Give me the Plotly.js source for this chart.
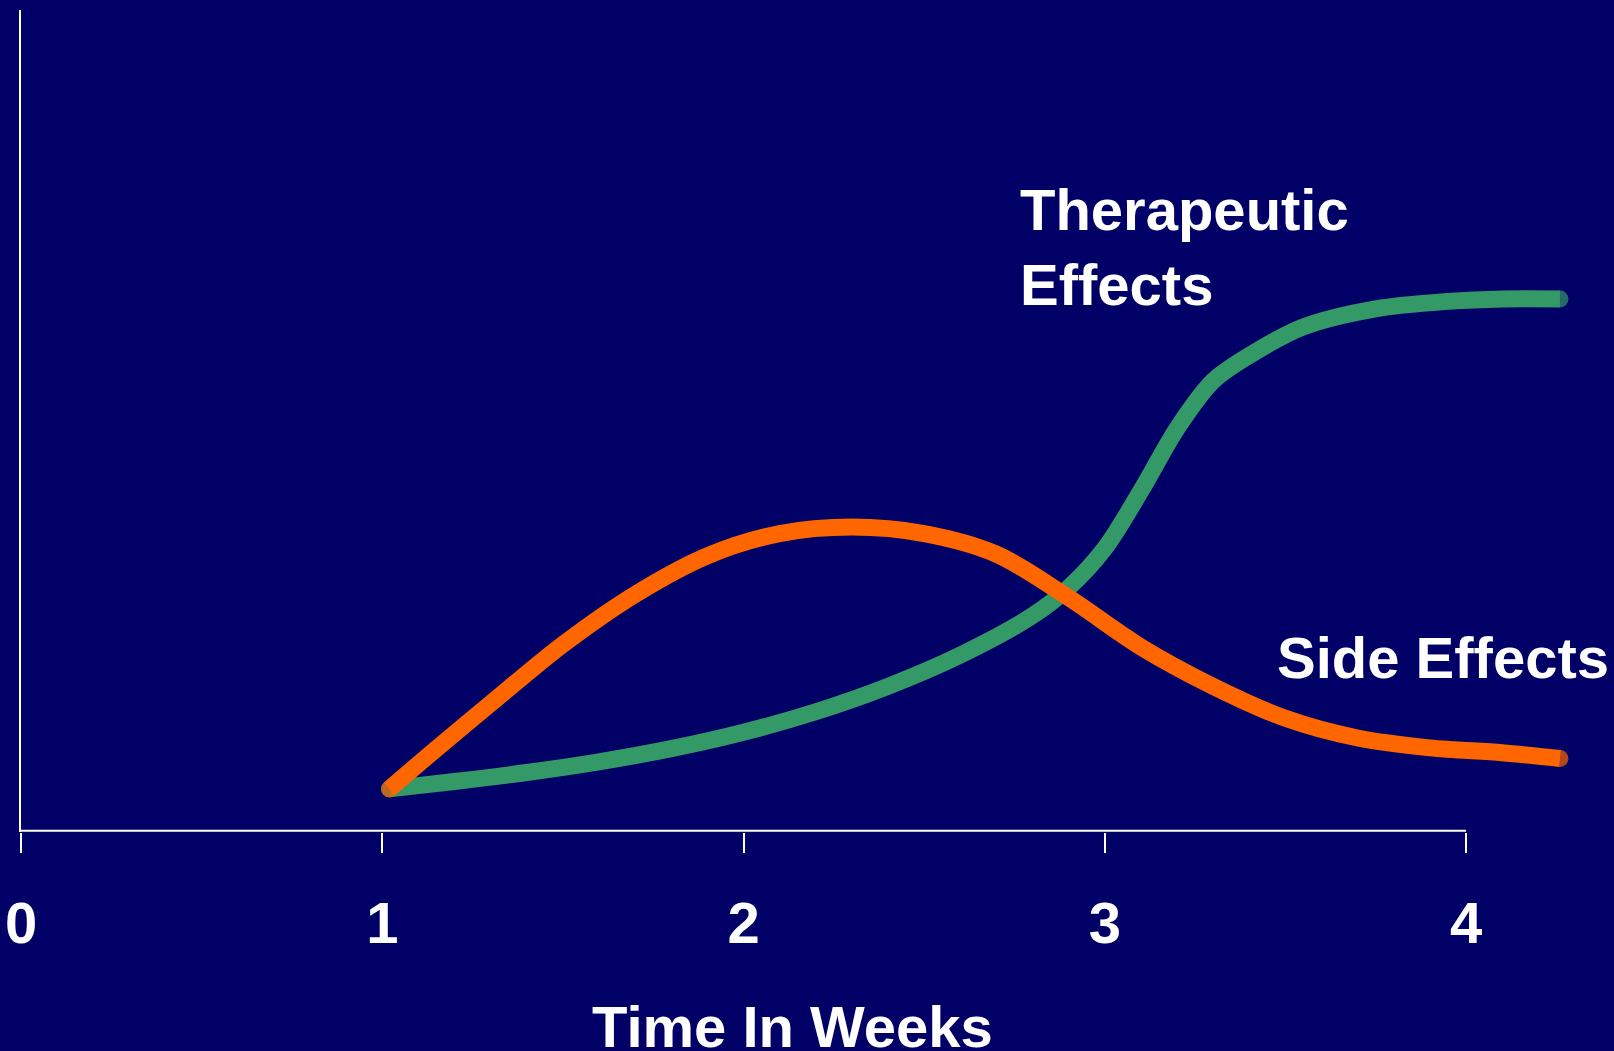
<!DOCTYPE html>
<html>
<head>
<meta charset="utf-8">
<script src="https://cdn.plot.ly/plotly-3.0.1.min.js"></script>
<style>
  html, body { margin: 0; padding: 0; background: #000066; }
  #chart { width: 1614px; height: 1051px; }
</style>
</head>
<body>
<div id="chart"></div>
<script>
// Time in weeks (x) and relative effect level (y, 0-100)
const therapeuticWeeks = [1.02, 1.2, 1.4, 1.6, 1.8, 2.0, 2.2, 2.4, 2.6, 2.8, 2.9, 3.0, 3.1, 3.2, 3.3, 3.4, 3.55, 3.75, 3.95, 4.1, 4.26];
const therapeuticLevel = [5.1, 6.0, 7.1, 8.4, 10.0, 12.0, 14.5, 17.6, 21.4, 26.2, 29.6, 34.4, 41.4, 49.0, 54.8, 57.9, 61.4, 63.6, 64.5, 64.8, 64.8];

const sideWeeks = [1.02, 1.15, 1.3, 1.5, 1.7, 1.9, 2.1, 2.3, 2.5, 2.7, 2.9, 3.1, 3.3, 3.5, 3.7, 3.9, 4.1, 4.26];
const sideLevel = [5.1, 10.0, 15.5, 22.7, 28.8, 33.5, 36.2, 37.0, 36.2, 33.7, 28.4, 22.4, 17.6, 13.7, 11.3, 10.1, 9.5, 8.8];

const tickWeeks = [0, 1, 2, 3, 4];
const tickLabels = ['0', '1', '2', '3', '4'];

const labelTherapeutic = 'Therapeutic<br>Effects';
const labelSide = 'Side Effects';
const axisTitle = 'Time In Weeks';

const BG = '#000066';
const GREEN = '#339966';
const ORANGE = '#FF6600';
const LW = 17;
const FONT = 'Liberation Sans, Arial, Helvetica, sans-serif';

function capSizes(n) { return Array.from({length: n}, (_, i) => (i === 0 || i === n - 1) ? LW : 0); }

const traces = [
  {
    x: therapeuticWeeks, y: therapeuticLevel, type: 'scatter', mode: 'lines+markers',
    line: {color: GREEN, width: LW, shape: 'spline', smoothing: 0.9},
    marker: {color: GREEN, size: capSizes(therapeuticWeeks.length), line: {width: 0}},
    name: 'Therapeutic Effects', hoverinfo: 'skip'
  },
  {
    x: sideWeeks, y: sideLevel, type: 'scatter', mode: 'lines+markers',
    line: {color: ORANGE, width: LW, shape: 'spline', smoothing: 0.9},
    marker: {color: ORANGE, size: capSizes(sideWeeks.length), line: {width: 0}},
    name: 'Side Effects', hoverinfo: 'skip'
  }
];

const layout = {
  width: 1614, height: 1051,
  paper_bgcolor: BG, plot_bgcolor: BG,
  margin: {l: 21, r: 4, t: 10, b: 219},
  showlegend: false,
  xaxis: {
    range: [0, 1589 / 361.25],
    showgrid: false, zeroline: false, showline: false,
    tickmode: 'array', tickvals: tickWeeks, ticktext: tickLabels,
    ticks: 'outside', ticklen: 20, tickwidth: 2, tickcolor: '#FFFFFF',
    ticklabelstandoff: 20,
    tickfont: {family: FONT, size: 58, color: '#FFFFFF', weight: 'bold'},
    fixedrange: true
  },
  yaxis: {
    range: [-0.15, 100],
    showgrid: false, zeroline: false,
    showline: true, linecolor: '#FFFFFF', linewidth: 2,
    showticklabels: false, ticks: '',
    fixedrange: true
  },
  shapes: [
    {type: 'line', xref: 'x', yref: 'y', x0: tickWeeks[0], x1: tickWeeks[tickWeeks.length - 1], y0: 0, y1: 0,
     line: {color: '#FFFFFF', width: 2}, layer: 'below'}
  ],
  annotations: [
    {text: labelTherapeutic, xref: 'x', yref: 'y', x: 2.76, y: 79.9, xanchor: 'left', yanchor: 'top', align: 'left',
     showarrow: false, font: {family: FONT, size: 58, color: '#FFFFFF', weight: 'bold'}},
    {text: labelSide, xref: 'x', yref: 'y', x: 3.47, y: 25.3, xanchor: 'left', yanchor: 'top', align: 'left',
     showarrow: false, font: {family: FONT, size: 58, color: '#FFFFFF', weight: 'bold'}},
    {text: axisTitle, xref: 'paper', yref: 'paper', x: 0.4858, y: -0.195, xanchor: 'center', yanchor: 'top',
     showarrow: false, font: {family: FONT, size: 58, color: '#FFFFFF', weight: 'bold'}}
  ]
};

Plotly.newPlot('chart', traces, layout, {displayModeBar: false, staticPlot: true});
</script>
</body>
</html>
